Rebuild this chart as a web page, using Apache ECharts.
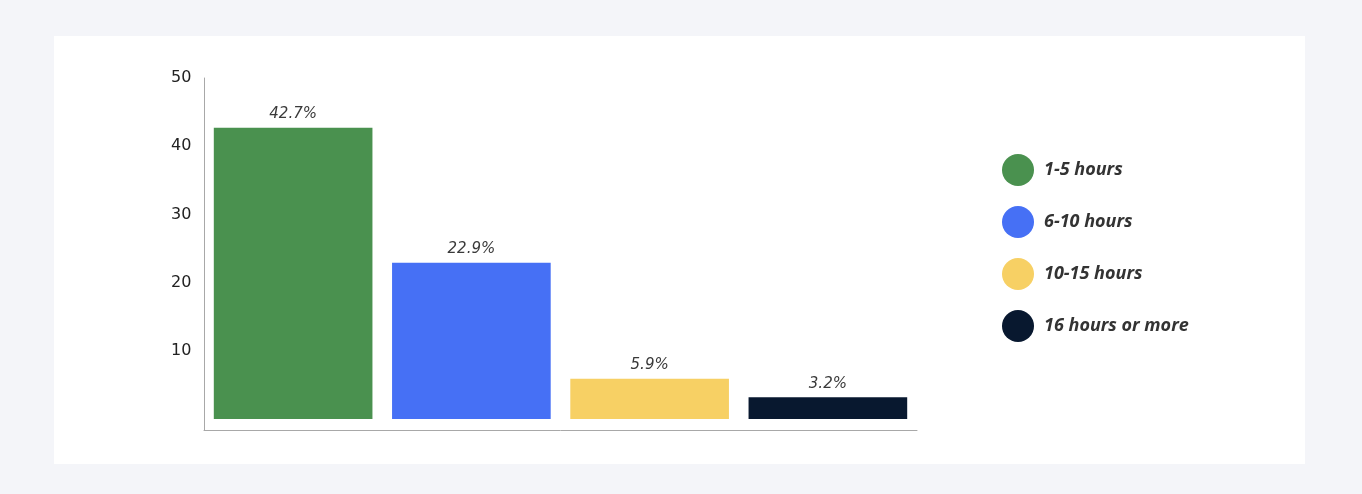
<!DOCTYPE html>
<html>
<head>
<meta charset="utf-8">
<script src="https://cdn.jsdelivr.net/npm/echarts@6/dist/echarts.min.js"></script>
<style>
  html, body { margin: 0; padding: 0; background: #f4f5f9; }
  #card { position: absolute; left: 54px; top: 36px; width: 1251px; height: 428px; background: #ffffff; }
  #chart { position: absolute; left: 0; top: 0; width: 1362px; height: 494px; }
</style>
</head>
<body>
<div id="card"></div>
<div id="chart"></div>
<script>
// hours per week
const categories = ['1-5 hours', '6-10 hours', '10-15 hours', '16 hours or more'];
const shares = [42.7, 22.9, 5.9, 3.2];
const colors = ['#4a914f', '#4670f5', '#f7d064', '#08182f'];
const yTicks = [10, 20, 30, 40, 50];

const chart = echarts.init(document.getElementById('chart'), null, { renderer: 'canvas' });

// one series per category so each bar gets its own legend entry
const series = categories.map((name, i) => ({
  name: name,
  type: 'bar',
  barGap: '-100%',
  barCategoryGap: '11%',
  itemStyle: { color: colors[i] },
  label: {
    show: true,
    position: 'top',
    distance: 6,
    formatter: p => p.value + '%',
    fontFamily: 'DejaVu Sans',
    fontStyle: 'italic',
    fontSize: 15,
    color: '#3a3a3a'
  },
  data: categories.map((c, j) => (j === i ? shares[i] : '-'))
}));

chart.setOption({
  backgroundColor: 'transparent',
  animation: false,
  color: colors,
  grid: { left: 204, right: 445, top: 78, bottom: 64 },
  legend: {
    orient: 'vertical',
    left: 1002,
    top: 154,
    padding: 0,
    icon: 'circle',
    itemWidth: 32,
    itemHeight: 32,
    itemGap: 20,
    selectedMode: false,
    textStyle: {
      fontFamily: 'Open Sans',
      fontStyle: 'italic',
      fontWeight: 'bold',
      fontSize: 18,
      color: '#333',
      padding: [0, 0, 0, 5]
    },
    data: categories
  },
  xAxis: {
    type: 'category',
    data: categories,
    axisLine: { onZero: false, lineStyle: { color: '#a8a8a8', width: 1 } },
    axisTick: { show: false },
    axisLabel: { show: false }
  },
  yAxis: {
    type: 'value',
    min: -1.6,
    max: 50,
    axisLine: { show: true, lineStyle: { color: '#a8a8a8', width: 1 } },
    axisTick: { show: false },
    splitLine: { show: false },
    axisLabel: {
      customValues: yTicks,
      align: 'left',
      margin: 33,
      fontFamily: 'DejaVu Sans',
      fontSize: 16,
      color: '#222'
    }
  },
  series: series
});
</script>
</body>
</html>
